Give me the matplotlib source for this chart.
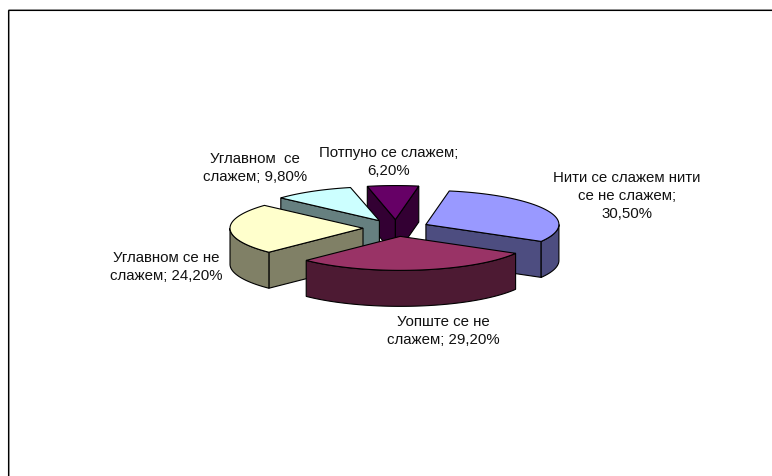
import numpy as np
import matplotlib
matplotlib.use("Agg")
import matplotlib.pyplot as plt
from matplotlib.patches import Polygon

plt.rcParams['font.family'] = ['Liberation Sans', 'DejaVu Sans']

# data, clockwise from the top
labels = ["Потпуно се слажем;\n6,20%",
          "Нити се слажем нити\nсе не слажем;\n30,50%",
          "Уопште се не\nслажем; 29,20%",
          "Углавном се не\nслажем; 24,20%",
          "Углавном  се\nслажем; 9,80%"]
values = [6.2, 30.5, 29.2, 24.2, 9.8]
top_colors = ["#660066", "#9999FF", "#993366", "#FFFFCC", "#CCFFFF"]
side_colors = ["#330033", "#4D4D80", "#4D1A33", "#808066", "#668080"]
label_xy = [(389, 162), (627, 196), (443, 331), (166, 267), (255, 168)]
draw_order = [0, 4, 3, 1, 2]

# pie layout in pixels
cx, cy = 396, 228
rx, ry = 133, 34
explode = 33
depth = 36
start = -12.2

fig = plt.figure(figsize=(7.72, 4.76), dpi=100)
ax = fig.add_axes([0, 0, 1, 1])
ax.set_xlim(0, 772)
ax.set_ylim(476, 0)
ax.axis('off')

# chart frame, only left and top show; it runs off the picture
ax.plot([9.5, 9.5], [10, 476], color='#999999', lw=0.72, snap=False)
ax.plot([9, 772], [9.5, 9.5], color='#999999', lw=0.72, snap=False)
ax.plot([8.5, 8.5, 772], [476, 10.5, 10.5], color='black', lw=0.8, solid_joinstyle='miter', snap=False)


def point(x0, y0, deg):
    a = np.radians(deg)
    return x0 + rx * np.sin(a), y0 - ry * np.cos(a)


edges = start + np.cumsum([0] + [v * 3.6 for v in values])
for i in draw_order:
    a0, a1 = edges[i], edges[i + 1]
    mid = np.radians((a0 + a1) / 2)
    x0 = cx + explode * np.sin(mid)
    y0 = cy - explode * ry / rx * np.cos(mid)
    angles = np.linspace(a0, a1, 80)
    xs, ys = point(x0, y0, angles)

    # start side faces the viewer when sin<0, end side when sin>0
    if np.sin(np.radians(a0)) < 0:
        px, py = point(x0, y0, a0)
        ax.add_patch(Polygon([(x0, y0), (px, py), (px, py + depth), (x0, y0 + depth)],
                             fc=side_colors[i], ec='black', lw=0.8))
    if np.sin(np.radians(a1)) > 0:
        px, py = point(x0, y0, a1)
        ax.add_patch(Polygon([(x0, y0), (px, py), (px, py + depth), (x0, y0 + depth)],
                             fc=side_colors[i], ec='black', lw=0.8))

    # outer wall, front half of the ellipse
    lo, hi = max(a0, 90), min(a1, 270)
    if hi > lo:
        wall = np.linspace(lo, hi, 80)
        wx, wy = point(x0, y0, wall)
        pts = list(zip(wx, wy)) + list(zip(wx[::-1], wy[::-1] + depth))
        ax.add_patch(Polygon(pts, fc=side_colors[i], ec='black', lw=0.8))

    top = [(x0, y0)] + list(zip(xs, ys))
    ax.add_patch(Polygon(top, fc=top_colors[i], ec='black', lw=0.8))

for lab, (x, y) in zip(labels, label_xy):
    ax.text(x, y, lab, ha='center', va='center', fontsize=10.8, color='#111111', linespacing=1.33)

fig.savefig("out.png", dpi=100)
